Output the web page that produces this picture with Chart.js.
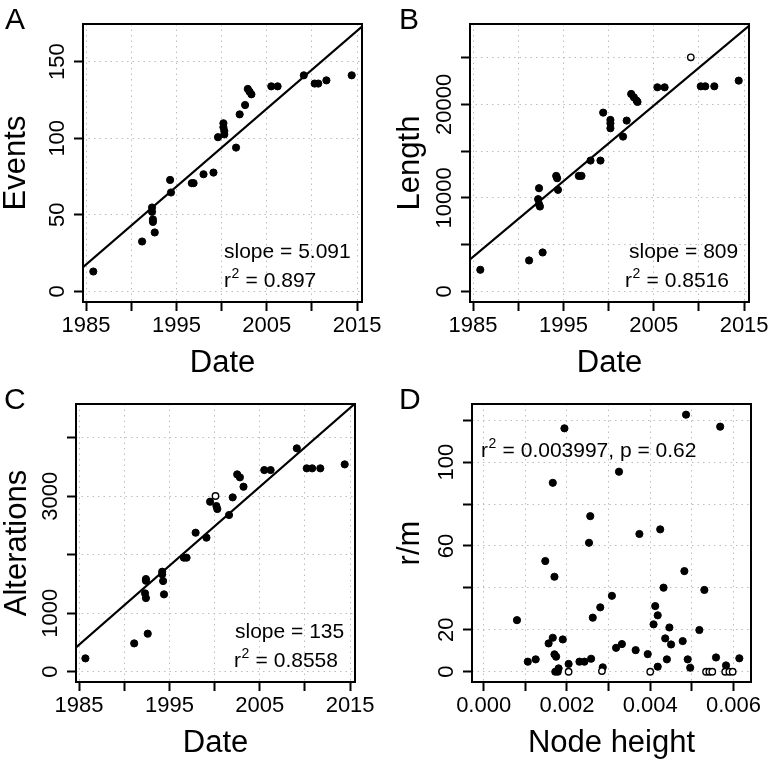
<!DOCTYPE html>
<html>
<head>
<meta charset="utf-8">
<title>Events, length and alterations through time</title>
<script src="https://cdn.jsdelivr.net/npm/chart.js@4.4.1/dist/chart.umd.min.js"></script>
<style>
  html, body { margin: 0; padding: 0; background: #fff; }
  body { position: relative; width: 773px; height: 767px; overflow: hidden; }
  canvas { position: absolute; }
</style>
</head>
<body>
<canvas id="chartA" width="386" height="383" style="left:0;top:0"></canvas>
<canvas id="chartB" width="387" height="383" style="left:386px;top:0"></canvas>
<canvas id="chartC" width="386" height="384" style="left:0;top:383px"></canvas>
<canvas id="chartD" width="387" height="384" style="left:386px;top:383px"></canvas>
<script>
var FONT = '"Liberation Sans", Arial, Helvetica, sans-serif';
Chart.defaults.font.family = FONT;
Chart.defaults.color = '#000';

// A - events against date
var dateA = [1985.8, 1991.2, 1992.3, 1992.3, 1992.4, 1992.4, 1992.6, 1994.3, 1994.4, 1996.7, 1996.9,
  1998.0, 1999.1, 1999.6, 2000.2, 2000.2, 2000.3, 2000.3, 2001.6, 2002.0, 2002.6, 2002.9, 2003.1,
  2003.3, 2005.5, 2006.2, 2009.1, 2010.3, 2010.7, 2011.6, 2014.4];
var eventsA = [13, 32.6, 54.8, 52, 47, 45.4, 38.5, 72.8, 64.6, 70.7, 70.7,
  76.5, 77.6, 100.7, 109.8, 107.2, 104.8, 102.5, 93.9, 115.6, 121.7, 132.2, 130.4,
  128.7, 133.9, 133.9, 141.1, 135.7, 135.7, 137.8, 141.1];
var slopeA = 5.091, fitA1985 = 17.5;

// B - length against date
var dateB = [1985.8, 1991.2, 1992.7, 1992.3, 1992.2, 1992.3, 1992.4, 1994.2, 1994.3, 1994.4, 1996.7,
  1997.0, 1998.0, 1999.1, 1999.4, 2000.2, 2000.2, 2000.2, 2001.6, 2002.0, 2002.5, 2002.8, 2003.1,
  2003.2, 2005.4, 2006.2, 2010.2, 2010.7, 2011.7, 2014.4];
var lengthB = [2315, 3312, 4167, 11040, 9865, 9330, 9081, 12357, 12108, 10862, 12357,
  12357, 13996, 13996, 19124, 18340, 17984, 17450, 16560, 18270, 21118, 20762, 20406,
  20263, 21830, 21830, 21937, 21937, 21937, 22543];
var dateBOpen = [2009.1];
var lengthBOpen = [25036];
var slopeB = 809, fitB1985 = 3700;

// C - alterations against date
var dateC = [1985.7, 1991.1, 1992.6, 1992.4, 1992.4, 1992.3, 1992.4, 1994.2, 1994.2, 1994.3, 1994.4,
  1996.6, 1996.9, 1997.9, 1999.1, 1999.5, 2000.2, 2000.3, 2001.6, 2002.0, 2002.5, 2002.8, 2003.2,
  2005.5, 2006.2, 2009.1, 2010.2, 2010.8, 2011.7, 2014.4];
var alterationsC = [228, 484, 650, 1584, 1555, 1339, 1259, 1709, 1664, 1550, 1322,
  1949, 1949, 2376, 2291, 2906, 2832, 2781, 2678, 2980, 3373, 3322, 3162,
  3447, 3447, 3818, 3476, 3476, 3476, 3544];
var dateCOpen = [2000.1];
var alterationsCOpen = [3003];
var slopeC = 135, fitC1985 = 460;

// D - r/m against node height
var nodeHeight = [0.00080, 0.00106, 0.00125, 0.00148, 0.00156, 0.00166, 0.00166, 0.00170, 0.00170,
  0.00174, 0.00172, 0.00180, 0.00190, 0.00194, 0.00204, 0.00230, 0.00242, 0.00258, 0.00253,
  0.00256, 0.00262, 0.00280, 0.00286, 0.00308, 0.00318, 0.00325, 0.00332, 0.00365, 0.00374,
  0.00394, 0.00408, 0.00412, 0.00418, 0.00418, 0.00424, 0.00432, 0.00436, 0.00440, 0.00446,
  0.00450, 0.00478, 0.00482, 0.00486, 0.00490, 0.00496, 0.00518, 0.00530, 0.00558, 0.00568,
  0.00582, 0.00614, 0.00178];
var rm = [24.6, 4.8, 5.9, 52.8, 13.5, 16.2, 90.1, 45.3, 8.3,
  7.2, 0, 1.6, 15.4, 116.1, 3.7, 4.8, 4.8, 6.2, 61.5,
  74.2, 25.8, 30.7, 2.1, 36.2, 11.4, 95.4, 13.2, 10.3, 65.7,
  8.4, 22.6, 31.3, 26.9, 2.4, 67.9, 40.1, 15.9, 5.9, 21.1,
  13.0, 14.6, 48.0, 122.6, 5.9, 1.9, 19.9, 39.0, 6.8, 116.9,
  3.0, 6.4, 0];
var nodeHeightOpen = [0.00204, 0.00284, 0.00400, 0.00534, 0.00542, 0.00549, 0.00580, 0.00590, 0.00598];
var rmOpen = [0, 0.3, 0, 0, 0, 0, 0, 0, 0];

// ticks and the ticks that carry a label
var dateTicks = [1985, 1990, 1995, 2000, 2005, 2010, 2015];
var dateLabels = [1985, 1995, 2005, 2015];
var eventTicks = [0, 50, 100, 150];
var eventLabels = [0, 50, 100, 150];
var lengthTicks = [0, 5000, 10000, 15000, 20000, 25000];
var lengthLabels = [0, 10000, 20000];
var alterationTicks = [0, 1000, 2000, 3000, 4000];
var alterationLabels = [0, 1000, 3000];
var heightTicks = [0, 0.001, 0.002, 0.003, 0.004, 0.005, 0.006];
var heightLabels = [0, 0.002, 0.004, 0.006];
var rmTicks = [0, 20, 40, 60, 80, 100, 120];
var rmLabels = [0, 20, 60, 100];

var dateMin = 1984.66, dateMax = 2015.54;

function pts(xs, ys) {
  return xs.map(function (x, i) { return {x: x, y: ys[i]}; });
}
function fitLine(slope, at1985) {
  return [{x: dateMin, y: at1985 + slope * (dateMin - 1985)},
          {x: dateMax, y: at1985 + slope * (dateMax - 1985)}];
}
function has(list, v) {
  return list.some(function (w) { return Math.abs(w - v) < 1e-9; });
}

// text and label placing for each panel (pixels from the plot box)
var extras = {
  chartA: { letter: 'A', lx: 5, ly: 29, yLabels: eventLabels, yFmt: String,
    notes: [{x: 141, y: 234, pre: 'slope = 5.091'}, {x: 141, y: 263, pre: 'r', sup: '2', post: ' = 0.897'}] },
  chartB: { letter: 'B', lx: 13, ly: 29, yLabels: lengthLabels, yFmt: String,
    notes: [{x: 159, y: 234, pre: 'slope = 809'}, {x: 155, y: 263, pre: 'r', sup: '2', post: ' = 0.8516'}] },
  chartC: { letter: 'C', lx: 4, ly: 26, yLabels: alterationLabels, yFmt: String,
    notes: [{x: 159, y: 234, pre: 'slope = 135'}, {x: 158, y: 263, pre: 'r', sup: '2', post: ' = 0.8558'}] },
  chartD: { letter: 'D', lx: 13, ly: 26, yLabels: rmLabels, yFmt: String,
    notes: [{x: 9, y: 53, pre: 'r', sup: '2', post: ' = 0.003997, p = 0.62'}] }
};

var decor = {
  id: 'decor',
  afterDatasetsDraw: function (chart) {
    var ex = extras[chart.canvas.id];
    var a = chart.chartArea, ctx = chart.ctx, ys = chart.scales.y;
    ctx.save();
    ctx.strokeStyle = '#000';
    ctx.lineWidth = 2;
    ctx.strokeRect(a.left, a.top, a.right - a.left, a.bottom - a.top);

    ctx.fillStyle = '#000';
    ctx.font = '22px ' + FONT;
    ctx.textAlign = 'center';
    ctx.textBaseline = 'alphabetic';
    ex.yLabels.forEach(function (v) {
      ctx.save();
      ctx.translate(a.left - 19, ys.getPixelForValue(v));
      ctx.rotate(-Math.PI / 2);
      ctx.fillText(ex.yFmt(v), 0, 0);
      ctx.restore();
    });

    ctx.textAlign = 'left';
    ex.notes.forEach(function (n) {
      var x = a.left + n.x, y = a.top + n.y;
      ctx.font = '21px ' + FONT;
      ctx.fillText(n.pre, x, y);
      if (n.sup) {
        x += ctx.measureText(n.pre).width;
        ctx.font = '14px ' + FONT;
        ctx.fillText(n.sup, x + 0.5, y - 9);
        x += ctx.measureText(n.sup).width + 1;
        ctx.font = '21px ' + FONT;
        ctx.fillText(n.post, x, y);
      }
    });

    ctx.font = '30px ' + FONT;
    ctx.fillText(ex.letter, ex.lx, ex.ly);
    ctx.restore();
  }
};

function xAxis(o) {
  return {
    type: 'linear', position: 'bottom', min: o.min, max: o.max,
    afterBuildTicks: function (s) { s.ticks = o.ticks.map(function (v) { return {value: v}; }); },
    afterFit: function (s) { s.height = o.height; s.paddingLeft = 0; s.paddingRight = 0; },
    ticks: { autoSkip: false, maxRotation: 0, padding: 2, font: { size: 22 },
      callback: function (v) { return has(o.labels, v) ? o.fmt(v) : ''; } },
    grid: { color: '#bdbdbd', lineWidth: 1, tickColor: '#000', tickWidth: 2, tickLength: 9 },
    border: { display: false, dash: [1.5, 4] },
    title: { display: true, text: o.title, font: { size: 31, lineHeight: 1 }, padding: { top: 0, bottom: o.titlePad } }
  };
}
function yAxis(o) {
  return {
    type: 'linear', position: 'left', min: o.min, max: o.max,
    afterBuildTicks: function (s) { s.ticks = o.ticks.map(function (v) { return {value: v}; }); },
    afterFit: function (s) { s.width = o.width; s.paddingTop = 0; s.paddingBottom = 0; },
    ticks: { display: false },
    grid: { color: '#bdbdbd', lineWidth: 1, tickColor: '#000', tickWidth: 2, tickLength: 9 },
    border: { display: false, dash: [1.5, 4] },
    title: { display: true, text: o.title, font: { size: 31, lineHeight: 1 }, padding: { top: o.titlePad, bottom: 0 } }
  };
}

function filled(data) {
  return { data: data, pointRadius: 3.6, pointBackgroundColor: '#000', pointBorderColor: '#000', pointBorderWidth: 1 };
}
function hollow(data) {
  return { data: data, pointRadius: 3.2, pointBackgroundColor: '#fff', pointBorderColor: '#000', pointBorderWidth: 1.4 };
}
function line(data) {
  return { data: data, showLine: true, borderColor: '#000', borderWidth: 2.2, pointRadius: 0 };
}

function make(id, datasets, pad, xs, ys) {
  new Chart(document.getElementById(id), {
    type: 'scatter',
    data: { datasets: datasets },
    options: {
      responsive: false,
      animation: false,
      events: [],
      layout: { padding: pad },
      plugins: { legend: { display: false }, tooltip: { enabled: false } },
      scales: { x: xAxis(xs), y: yAxis(ys) }
    },
    plugins: [decor]
  });
}

function yearFmt(v) { return String(v); }
function heightFmt(v) { return v.toFixed(3); }

make('chartA',
  [line(fitLine(slopeA, fitA1985)), filled(pts(dateA, eventsA))],
  { left: 0, top: 24, right: 24, bottom: 0 },
  { min: dateMin, max: dateMax, ticks: dateTicks, labels: dateLabels, fmt: yearFmt, title: 'Date', height: 81, titlePad: 4 },
  { min: -6.9, max: 174.6, ticks: eventTicks, title: 'Events', width: 83, titlePad: 1 });

make('chartB',
  [line(fitLine(slopeB, fitB1985)), hollow(pts(dateBOpen, lengthBOpen)), filled(pts(dateB, lengthB))],
  { left: 0, top: 24, right: 24, bottom: 0 },
  { min: dateMin, max: dateMax, ticks: dateTicks, labels: dateLabels, fmt: yearFmt, title: 'Date', height: 81, titlePad: 4 },
  { min: -1130, max: 28600, ticks: lengthTicks, title: 'Length', width: 84, titlePad: 9 });

make('chartC',
  [line(fitLine(slopeC, fitC1985)), hollow(pts(dateCOpen, alterationsCOpen)), filled(pts(dateC, alterationsC))],
  { left: 0, top: 21, right: 31, bottom: 0 },
  { min: dateMin, max: dateMax, ticks: dateTicks, labels: dateLabels, fmt: yearFmt, title: 'Date', height: 85, titlePad: 8.5 },
  { min: -176, max: 4576, ticks: alterationTicks, title: 'Alterations', width: 76, titlePad: 1.5 });

make('chartD',
  [hollow(pts(nodeHeightOpen, rmOpen)), filled(pts(nodeHeight, rm))],
  { left: 0, top: 21, right: 22, bottom: 0 },
  { min: -0.00028, max: 0.00642, ticks: heightTicks, labels: heightLabels, fmt: heightFmt, title: 'Node height', height: 85, titlePad: 8.5 },
  { min: -4.9, max: 127.7, ticks: rmTicks, title: 'r/m', width: 86, titlePad: 8.5 });
</script>
</body>
</html>
